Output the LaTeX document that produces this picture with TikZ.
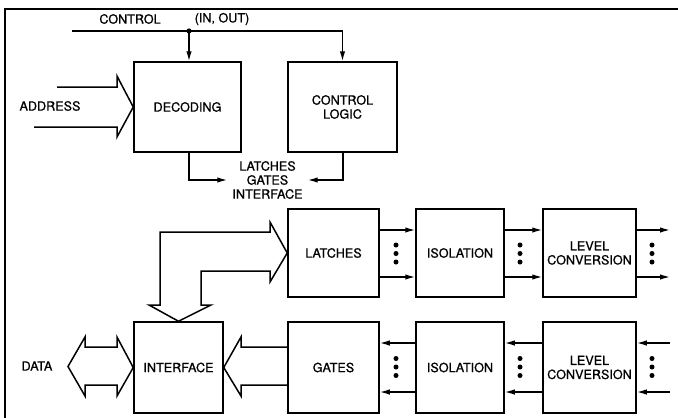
\documentclass[tikz,border=0pt]{standalone}
\usepackage{fontspec}
\setmainfont{TeX Gyre Heros}[FakeBold=0.9]
\usetikzlibrary{arrows.meta}
\tikzset{
  box/.style={draw, line width=1.5pt, inner sep=0pt, align=center, font=\fontsize{12.6}{14}\selectfont},
  lbl/.style={inner sep=0pt, align=center, font=\fontsize{12.6}{14}\selectfont},
  wire/.style={line width=1.4pt, -{Latex[length=10pt,width=5.5pt]}},
  fat/.style={line width=1.5pt, line join=miter},
  dotmark/.style={circle, fill, inner sep=0pt, minimum size=5pt}
}
\begin{document}
\begin{tikzpicture}[x=1pt,y=-1pt]
\useasboundingbox (0,0) rectangle (678,418);
% frame
\draw[line width=1.6pt] (5,418) -- (5,9) -- (678,9);

% boxes
\node[box, minimum width=107pt, minimum height=90pt] (dec) at (187.5,107) {DECODING};
\node[box, minimum width=109pt, minimum height=90pt] (ctl) at (342.5,107) {CONTROL\\LOGIC};
\node[box, minimum width=91pt, minimum height=88pt] (lat) at (333.5,253) {LATCHES};
\node[box, minimum width=88pt, minimum height=88pt] (iso1) at (460,253) {ISOLATION};
\node[box, minimum width=93pt, minimum height=88pt] (lev1) at (589.5,253) {LEVEL\\CONVERSION};
\node[box, minimum width=91pt, minimum height=91pt] (gat) at (333.5,367.5) {GATES};
\node[box, minimum width=88pt, minimum height=91pt] (iso2) at (460,367.5) {ISOLATION};
\node[box, minimum width=93pt, minimum height=91pt] (lev2) at (589.5,367.5) {LEVEL\\CONVERSION};
\node[box, minimum width=89pt, minimum height=91pt] (itf) at (178.5,367.5) {INTERFACE};

% labels
\node[lbl] (lctl) at (130,19) {CONTROL};
\node[lbl] (linout) at (222,19) {(IN, OUT)};
\node[lbl] (laddr) at (50,106) {ADDRESS};
\node[lbl] (ldata) at (37,366) {DATA};
\node[lbl] (lgi) at (267.5,180) {LATCHES\\GATES\\INTERFACE};

% control bus
\coordinate (cstart) at (72,31);
\coordinate (cdot) at (189,31);
\draw[wire] (cstart) -- (cdot) -| (ctl.north);
\fill (cdot) circle (2.6pt);
\draw[wire] (cdot) -- (cdot |- dec.north);

% to latches/gates/interface
\draw[wire, shorten >=5pt] ([xshift=1.5pt]dec.south) |- (lgi.west);
\draw[wire, shorten >=5pt] ([xshift=0.5pt]ctl.south) |- (lgi.east);

% address fat arrow
\draw[fat] (57,87) -- (117,87) -- (117,76) -- (dec.west) -- (117,137) -- (117,127) -- (34,127);

% data double arrow
\draw[fat] (85,347) -- (117,347) -- (117,337) -- (itf.west) -- (117,396) -- (117,385) -- (85,385) -- (85,396) -- (68,366.5) -- (85,337) -- cycle;

% gates -> interface
\draw[fat] (gat.west |- 0,347) -- (241,347) -- (241,337) -- (itf.east) -- (241,396) -- (241,385) -- (gat.west |- 0,385);

% interface -> latches L arrow
\draw[fat] (160,305) -- (160,232) -- (270,232) -- (270,222) -- (lat.west) -- (270,282) -- (270,271) -- (201,271) -- (201,305) -- (211,305) -- (itf.north) -- (149,305) -- cycle;

% top row wires
\foreach \yy in {230,277} {
  \draw[wire] (lat.east |- 0,\yy) -- (iso1.west |- 0,\yy);
  \draw[wire] (iso1.east |- 0,\yy) -- (lev1.west |- 0,\yy);
  \coordinate (out\yy) at (670,\yy);
  \draw[wire] (lev1.east |- 0,\yy) -- (out\yy);
}
% bottom row wires
\foreach \yy in {343,392} {
  \draw[wire] (iso2.west |- 0,\yy) -- (gat.east |- 0,\yy);
  \draw[wire] (lev2.west |- 0,\yy) -- (iso2.east |- 0,\yy);
  \coordinate (in\yy) at (670,\yy);
  \draw[wire] (in\yy) -- (lev2.east |- 0,\yy);
}
% dots
\foreach \xx in {396,520,652} {
  \foreach \yy in {245,253.5,262,358.5,367,375.5} {
    \node[dotmark] at (\xx,\yy) {};
  }
}
\end{tikzpicture}
\end{document}
